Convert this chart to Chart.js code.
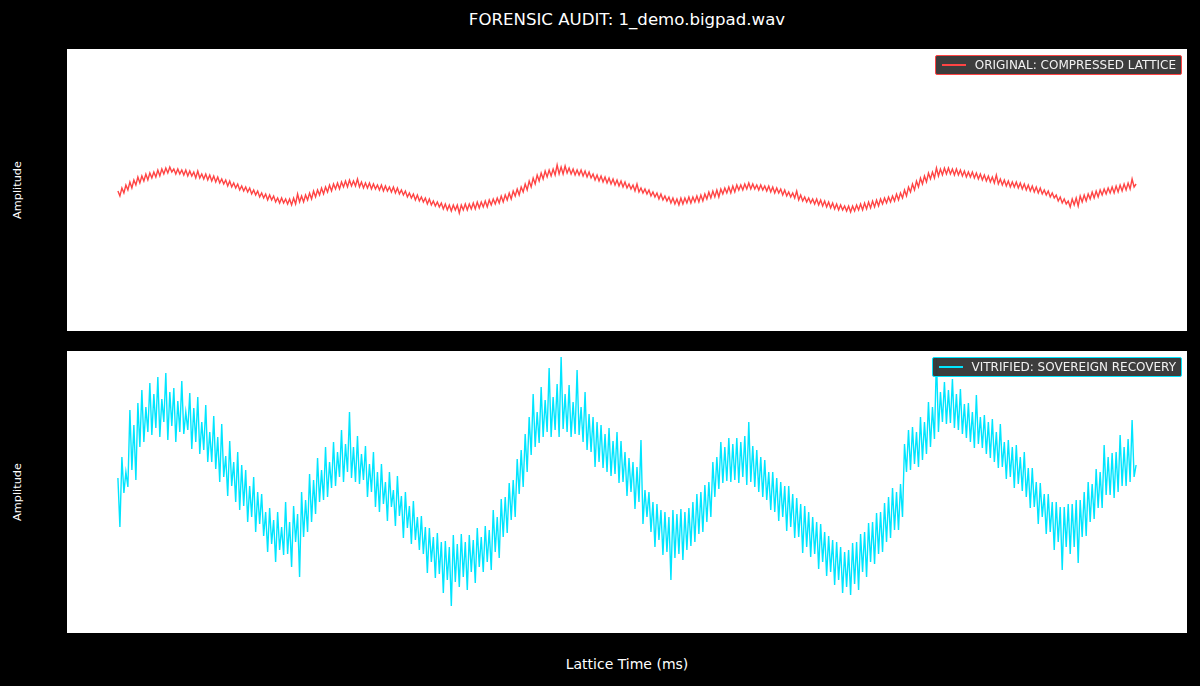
<!DOCTYPE html>
<html>
<head>
<meta charset="utf-8">
<script src="https://cdn.jsdelivr.net/npm/chart.js@4"></script>
<style>
  html, body { margin:0; padding:0; background:#000; }
  body { width:1200px; height:686px; position:relative; overflow:hidden; font-family:"DejaVu Sans", sans-serif; color:#fff; }
  .panel { position:absolute; left:67px; width:1120px; height:282px; background:#fff; }
  .panel canvas { display:block; }
  #title { position:absolute; left:67px; width:1120px; top:9px; text-align:center; font-size:16.6px; line-height:22px; white-space:nowrap; }
  #xlabel { position:absolute; left:67px; width:1120px; top:655px; text-align:center; font-size:14px; line-height:18px; white-space:nowrap; }
  .ylabel { position:absolute; left:18px; font-size:11.3px; line-height:14px; white-space:nowrap; transform:translate(-50%,-50%) rotate(-90deg); }
  .legend { position:absolute; right:5px; top:6px; height:18px; background:rgba(51,51,51,0.95); border:1px solid; border-radius:2px; padding:0 5px 0 6px; display:flex; align-items:center; font-size:12px; line-height:18px; color:#f2f2f2; white-space:nowrap; }
  .legend .swatch { width:24px; height:1.5px; margin-right:9px; }
</style>
</head>
<body>
<div id="title">FORENSIC AUDIT: 1_demo.bigpad.wav</div>
<div class="ylabel" style="top:190px;">Amplitude</div>
<div class="ylabel" style="top:492px;">Amplitude</div>
<div id="xlabel">Lattice Time (ms)</div>
<div class="panel" style="top:49px;"><canvas id="c1" width="1120" height="282"></canvas></div>
<div class="panel" style="top:351px;"><canvas id="c2" width="1120" height="282"></canvas></div>
<script>
// Series labels
const originalLabel = "ORIGINAL: COMPRESSED LATTICE";
const recoveredLabel = "VITRIFIED: SOVEREIGN RECOVERY";

// Amplitude values (arbitrary units), one per sample index
const originalValues = [
-1,-6,2,-3,5,0,8,2,10,5,13,7,14,9,16,10,17,12,18,13,20,14,21,16,22,17,23,18,21,16,21,16,
20,15,20,14,19,14,18,12,19,12,16,11,16,10,15,9,14,8,13,7,11,6,10,4,9,3,7,2,6,0,4,-1,
3,-2,2,-4,0,-5,-1,-7,-3,-8,-4,-10,-5,-10,-6,-12,-8,-13,-8,-13,-9,-14,-9,-15,-8,-14,-4,-12,-6,-12,-5,-10,
-3,-9,-1,-7,0,-5,2,-4,3,-2,5,-1,6,1,7,1,8,3,9,3,10,4,9,4,11,3,8,2,7,2,7,1,
6,1,5,0,5,-1,4,-1,3,-2,3,-3,2,-4,0,-5,-1,-7,-3,-8,-4,-10,-5,-11,-7,-12,-8,-14,-9,-15,-11,-16,
-12,-17,-13,-19,-14,-20,-15,-21,-15,-20,-15,-23,-15,-20,-14,-20,-14,-19,-13,-19,-12,-18,-12,-17,-11,-17,-10,-15,-9,-14,-8,-13,
-6,-12,-5,-10,-3,-9,-1,-6,1,-5,3,-2,6,0,9,3,12,6,15,9,17,11,19,13,20,14,21,15,25,16,23,16,
24,17,22,16,21,15,20,15,20,14,19,13,18,12,16,10,15,9,14,8,13,7,12,6,11,5,10,4,9,3,8,2,
6,1,5,-1,6,-2,2,-3,1,-4,0,-6,-2,-7,-3,-9,-4,-10,-6,-11,-7,-13,-8,-14,-9,-15,-8,-14,-8,-13,-7,-13,
-7,-12,-6,-12,-5,-11,-4,-9,-2,-8,-1,-7,0,-7,1,-4,2,-3,3,-3,4,-2,5,0,5,0,6,1,7,1,6,1,
5,0,5,0,4,-1,4,-2,3,-3,2,-3,1,-5,0,-6,-2,-7,-3,-8,-1,-10,-5,-11,-7,-12,-8,-13,-9,-14,-9,-15,
-10,-16,-11,-17,-12,-18,-13,-19,-14,-20,-15,-20,-16,-21,-16,-22,-16,-21,-15,-20,-14,-20,-13,-19,-12,-18,-11,-17,-10,-16,-9,-14,
-8,-13,-7,-12,-6,-11,-4,-10,-3,-8,0,-6,3,-2,6,0,9,3,12,6,14,8,17,11,18,12,22,14,21,15,22,16,
22,16,21,15,21,15,20,14,19,13,18,13,18,12,17,11,16,10,15,9,14,8,13,7,15,6,11,5,10,4,9,3,
8,3,8,2,7,1,6,0,5,-1,4,-2,3,-3,2,-4,0,-5,-1,-7,-3,-8,-5,-11,-7,-13,-9,-14,-11,-17,-9,-15,
-8,-16,-6,-12,-5,-11,-4,-9,-2,-8,-1,-7,0,-5,1,-4,2,-3,3,-3,4,-2,5,-1,6,0,7,1,11,3,6
];

const recoveredValues = [
14,-35,35,-1,20,5,82,22,67,12,89,45,102,50,85,60,109,57,98,64,115,55,93,70,119,52,100,66,104,50,91,60,
111,58,80,62,99,43,84,50,95,38,70,42,87,30,60,30,76,23,55,10,68,15,36,-4,51,6,30,-10,40,-18,27,-14,
22,-30,6,-25,15,-40,0,-32,-2,-44,-20,-60,-16,-52,-28,-70,-20,-58,-35,-63,-10,-62,-30,-75,-14,-50,-22,-85,0,-45,-8,-40,
18,-30,12,-22,34,-10,22,-8,45,-5,30,4,50,6,40,15,62,10,48,20,80,14,45,10,56,8,38,12,46,-5,28,0,
40,-15,20,-20,28,-12,10,-29,20,-15,2,-34,16,-24,-4,-46,0,-36,-14,-52,-9,-48,-25,-58,-24,-62,-35,-81,-36,-70,-45,-86,
-41,-82,-50,-101,-49,-88,-55,-114,-43,-90,-52,-95,-42,-85,-50,-98,-43,-80,-48,-91,-36,-75,-45,-80,-34,-70,-38,-78,-18,-60,-25,-66,
-7,-45,-5,-41,9,-28,12,-25,33,-2,42,5,58,20,75,37,98,45,80,49,105,55,92,60,124,55,95,62,108,55,135,63,
98,60,107,55,90,58,122,57,85,50,100,42,78,40,75,25,70,30,67,24,58,20,64,16,51,18,60,9,51,10,40,-4,
34,0,30,-17,25,-10,52,-32,2,-25,0,-40,-10,-55,-12,-48,-18,-63,-20,-60,-25,-88,-18,-66,-22,-62,-17,-68,-20,-58,-16,-54,
-10,-50,-2,-42,0,-40,7,-30,10,-25,30,-5,35,3,50,9,45,11,54,10,48,12,54,9,50,15,56,7,70,10,46,5,
42,0,35,-5,32,-8,20,-18,20,-20,14,-29,10,-25,6,-39,6,-35,-2,-46,-6,-45,-12,-61,-14,-55,-20,-65,-25,-62,-30,-77,
-32,-70,-40,-84,-44,-80,-48,-93,-50,-88,-55,-101,-60,-95,-58,-103,-51,-92,-50,-98,-42,-80,-40,-85,-31,-70,-30,-72,-21,-62,-20,-60,
-11,-50,-5,-46,4,-38,0,-38,8,-25,48,20,62,22,65,28,60,25,75,32,70,38,90,45,85,53,135,60,100,70,110,68,
102,69,113,64,98,62,103,58,88,54,89,50,80,44,97,48,75,44,77,38,70,34,73,30,60,24,68,25,50,13,52,15,
45,4,47,8,35,1,40,-5,24,-16,24,-15,10,-32,9,-25,-2,-42,-2,-40,-10,-58,-10,-50,-15,-78,-15,-55,-12,-62,-12,-55,
-8,-71,-8,-45,0,-44,10,-30,8,-27,23,-16,20,-16,47,-3,35,-3,39,-6,40,0,57,6,45,6,53,10,72,15,27
];

const amplitudeMin = -141;
const amplitudeMax = 141;

function makeChart(id, label, values, color) {
  const n = values.length;
  const pad = (n - 1) * 0.05;
  return new Chart(document.getElementById(id), {
    type: 'line',
    data: {
      datasets: [{
        label: label,
        data: values.map((v, i) => ({ x: i, y: v })),
        borderColor: color,
        borderWidth: 1.4,
        pointRadius: 0,
        tension: 0,
        fill: false
      }]
    },
    options: {
      responsive: false,
      animation: false,
      events: [],
      layout: { padding: 0 },
      plugins: { legend: { display: false }, tooltip: { enabled: false }, title: { display: false } },
      scales: {
        x: { type: 'linear', min: -pad, max: n - 1 + pad, display: false },
        y: { type: 'linear', min: amplitudeMin, max: amplitudeMax, display: false }
      }
    }
  });
}

function addLegend(chart) {
  const ds = chart.data.datasets[0];
  const box = document.createElement('div');
  box.className = 'legend';
  box.style.borderColor = ds.borderColor;
  const sw = document.createElement('span');
  sw.className = 'swatch';
  sw.style.background = ds.borderColor;
  const tx = document.createElement('span');
  tx.textContent = ds.label;
  box.appendChild(sw);
  box.appendChild(tx);
  chart.canvas.parentNode.appendChild(box);
}

const c1 = makeChart('c1', originalLabel, originalValues, '#ff4444');
const c2 = makeChart('c2', recoveredLabel, recoveredValues, '#00e5ff');
addLegend(c1);
addLegend(c2);
</script>
</body>
</html>
